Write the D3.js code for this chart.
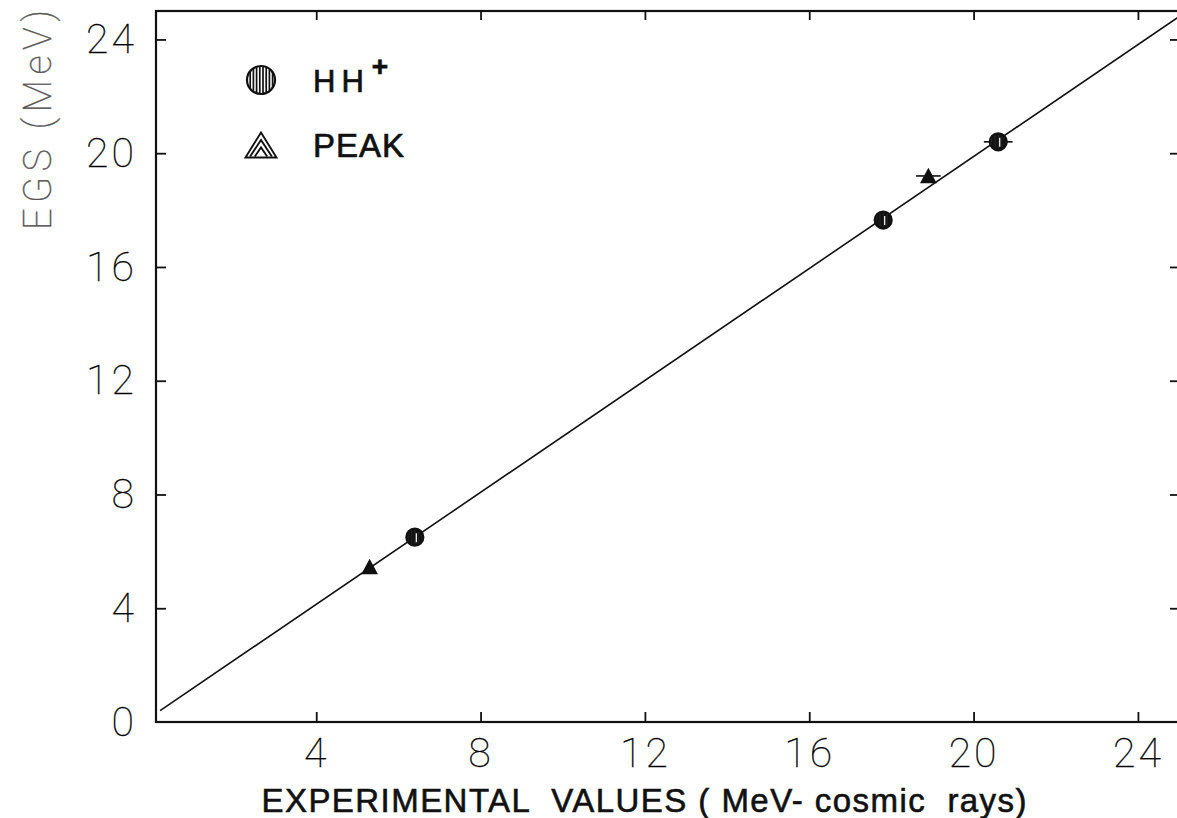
<!DOCTYPE html>
<html>
<head>
<meta charset="utf-8">
<script src="https://cdn.jsdelivr.net/npm/d3@7"></script>
<style>
  html, body { margin: 0; padding: 0; background: #fff; }
  svg { display: block; }
  .tick text { font-family: Roboto, "DejaVu Sans", sans-serif; font-weight: 100; font-size: 41px; fill: #000; letter-spacing: 3px; stroke: #000; stroke-width: 0.3px; }
  .tick line { stroke: #111; stroke-width: 1.8px; }
  .domain { display: none; }
</style>
</head>
<body>
<svg id="chart" width="1177" height="818"></svg>
<script>
// EGS calculation vs. experimental values (MeV)
const xTicks = [4, 8, 12, 16, 20, 24];
const yTicks = [0, 4, 8, 12, 16, 20, 24];

// HH+ points: experimental, EGS, horizontal error half-width
const hhX   = [6.4, 17.8, 20.6];
const hhY   = [6.5, 17.65, 20.4];
const hhErr = [0.15, 0.0, 0.35];

// PEAK points
const peakX   = [5.3, 18.9];
const peakY   = [5.45, 19.2];
const peakErr = [0.0, 0.3];

// straight-line fit, end points
const fitX = [0.2, 25];
const fitY = [0.4, 24.8];

const legendLabels = ["HH", "PEAK"];

const svg = d3.select("#chart");

const x = d3.scaleLinear().domain([0.1, 25]).range([156, 1179]);
const y = d3.scaleLinear().domain([0, 25]).range([722, 11]);

// frame
svg.append("rect")
  .attr("x", x(0.1)).attr("y", y(25))
  .attr("width", x(25) - x(0.1)).attr("height", y(0) - y(25))
  .attr("fill", "none").attr("stroke", "#111").attr("stroke-width", 2.2);

// axes with inward ticks
svg.append("g").attr("transform", `translate(0,${y(0)})`)
  .call(d3.axisBottom(x).tickValues(xTicks).tickSize(-10).tickPadding(16).tickFormat(d3.format("d")));
svg.append("g").attr("transform", `translate(${x(0.1)},0)`)
  .call(d3.axisLeft(y).tickValues(yTicks.filter(v => v > 0)).tickSize(-10).tickPadding(19).tickFormat(d3.format("d")));
svg.append("g").attr("transform", `translate(${x(0.1)},0)`)
  .call(d3.axisLeft(y).tickValues([0]).tickSize(0).tickPadding(19).tickFormat(d3.format("d")));
svg.append("g").attr("transform", `translate(0,${y(25)})`)
  .call(d3.axisTop(x).tickValues(xTicks).tickSize(-9).tickFormat(""));
svg.append("g").attr("transform", `translate(${x(25)},0)`)
  .call(d3.axisRight(y).tickValues(yTicks.filter(v => v > 0)).tickSize(-9).tickFormat(""));

// fit line
const line = d3.line().x(d => x(d[0])).y(d => y(d[1]));
svg.append("path")
  .datum(fitX.map((v, i) => [v, fitY[i]]))
  .attr("d", line)
  .attr("fill", "none").attr("stroke", "#111").attr("stroke-width", 1.6);

// hatched circle marker
function circleMarker(g, cx, cy, r, gap, sw) {
  const id = "c" + Math.round(cx) + "_" + Math.round(cy);
  g.append("clipPath").attr("id", id)
    .append("circle").attr("cx", cx).attr("cy", cy).attr("r", r);
  const hatch = g.append("g").attr("clip-path", `url(#${id})`);
  for (let dx = -r + gap; dx < r; dx += gap) {
    hatch.append("line")
      .attr("x1", cx + dx).attr("x2", cx + dx)
      .attr("y1", cy - r).attr("y2", cy + r)
      .attr("stroke", "#111").attr("stroke-width", sw);
  }
  g.append("circle").attr("cx", cx).attr("cy", cy).attr("r", r)
    .attr("fill", "none").attr("stroke", "#111").attr("stroke-width", 2.2);
}

// triangle with nested chevrons
function triangleMarker(g, cx, cy, w, h, sw, nest) {
  const top = cy - h / 2, bot = cy + h / 2;
  g.append("path")
    .attr("d", `M${cx - w / 2},${bot} L${cx},${top} L${cx + w / 2},${bot} Z`)
    .attr("fill", "none").attr("stroke", "#111").attr("stroke-width", sw).attr("stroke-linejoin", "miter");
  for (let k = 1; k <= nest; k++) {
    const s = k / (nest + 1);
    const ty = top + h * s * 0.9;
    const half = (w / 2) * (1 - s * 0.9);
    g.append("path")
      .attr("d", `M${cx - half},${bot - 1} L${cx},${ty} L${cx + half},${bot - 1}`)
      .attr("fill", "none").attr("stroke", "#111").attr("stroke-width", sw);
  }
}

// error bars
const errG = svg.append("g").attr("stroke", "#111").attr("stroke-width", 1.6);
hhX.forEach((v, i) => {
  if (hhErr[i] > 0) errG.append("line")
    .attr("x1", x(v - hhErr[i])).attr("x2", x(v + hhErr[i]))
    .attr("y1", y(hhY[i])).attr("y2", y(hhY[i]));
});
peakX.forEach((v, i) => {
  if (peakErr[i] > 0) errG.append("line")
    .attr("x1", x(v - peakErr[i])).attr("x2", x(v + peakErr[i]))
    .attr("y1", y(peakY[i])).attr("y2", y(peakY[i]));
});

// data markers
const pts = svg.append("g");
hhX.forEach((v, i) => {
  const g = pts.append("g");
  g.append("circle").attr("cx", x(v)).attr("cy", y(hhY[i])).attr("r", 8.5).attr("fill", "#222");
  circleMarker(g, x(v), y(hhY[i]), 8.5, 3.5, 2.2);
  g.append("line")
    .attr("x1", x(v) + 1.5).attr("x2", x(v) + 1.5)
    .attr("y1", y(hhY[i]) - 4).attr("y2", y(hhY[i]) + 5)
    .attr("stroke", "#fff").attr("stroke-width", 1.2);
});
peakX.forEach((v, i) => {
  const g = pts.append("g");
  g.append("path")
    .attr("d", `M${x(v) - 7},${y(peakY[i]) + 6} L${x(v)},${y(peakY[i]) - 7} L${x(v) + 7},${y(peakY[i]) + 6} Z`)
    .attr("fill", "#111");
  triangleMarker(g, x(v), y(peakY[i]), 14, 13, 1.6, 1);
});

// legend
const leg = svg.append("g");
circleMarker(leg, 261, 80, 14, 3.2, 1.7);
triangleMarker(leg, 261, 145, 31, 25, 1.9, 2);
const legText = leg.append("text")
  .attr("x", 313).attr("y", 92)
  .attr("font-family", "'Liberation Sans', Arial, sans-serif")
  .attr("font-size", 31).attr("fill", "#111")
  .attr("stroke", "#111").attr("stroke-width", 0.7)
  .attr("letter-spacing", 6);
legText.append("tspan").text(legendLabels[0]);
legText.append("tspan").attr("dx", 2).attr("dy", -16)
  .attr("font-size", 28).attr("font-weight", "bold").text("+");
leg.append("text")
  .attr("x", 313).attr("y", 157)
  .attr("font-family", "'Liberation Sans', Arial, sans-serif")
  .attr("font-size", 33).attr("fill", "#111")
  .attr("stroke", "#111").attr("stroke-width", 0.7)
  .attr("letter-spacing", 1)
  .text(legendLabels[1]);

// axis titles
svg.append("text")
  .attr("x", 644).attr("y", 812)
  .attr("text-anchor", "middle")
  .style("white-space", "pre")
  .attr("font-family", "'Liberation Sans', Arial, sans-serif")
  .attr("font-size", 33).attr("fill", "#111")
  .attr("stroke", "#111").attr("stroke-width", 0.6)
  .attr("textLength", 765).attr("lengthAdjust", "spacing")
  .text("EXPERIMENTAL  VALUES ( MeV- cosmic  rays)");

svg.append("text")
  .attr("transform", "translate(51,120) rotate(-90)")
  .attr("text-anchor", "middle")
  .attr("font-family", "Roboto, 'DejaVu Sans', sans-serif")
  .attr("font-weight", 100)
  .attr("font-size", 38).attr("fill", "#555")
  .attr("stroke", "#555").attr("stroke-width", 0.4)
  .attr("textLength", 220).attr("lengthAdjust", "spacing")
  .text("EGS (MeV)");
</script>
</body>
</html>
